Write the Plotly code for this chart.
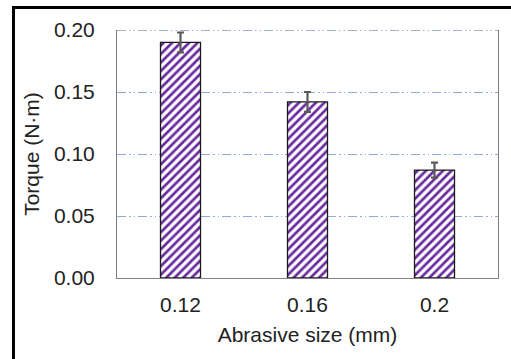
import plotly.graph_objects as go

categories = ["0.12", "0.16", "0.2"]
torque = [0.190, 0.142, 0.087]
errors = [0.008, 0.008, 0.006]
y_ticks = [0.0, 0.05, 0.10, 0.15, 0.20]
y_tick_labels = ["0.00", "0.05", "0.10", "0.15", "0.20"]

font_family = "Liberation Sans, Arial, sans-serif"

fig = go.Figure()
fig.add_trace(go.Bar(
    x=categories,
    y=torque,
    error_y=dict(type="data", array=errors, visible=True, color="#5a5a5a",
                 thickness=2.2, width=3.5),
    marker=dict(
        color="white",
        line=dict(color="#1a1a1a", width=1.3),
        pattern=dict(shape="/", fgcolor="#6a2a9e", bgcolor="white",
                     size=6, solidity=0.45, fillmode="overlay", fgopacity=1),
    ),
    width=0.315,
))

fig.update_layout(
    width=511, height=359,
    margin=dict(l=117, r=13, t=30, b=81),
    paper_bgcolor="white", plot_bgcolor="white",
    font=dict(family=font_family, size=21, color="#222222"),
    showlegend=False,
    xaxis=dict(
        title=dict(text="Abrasive size (mm)", font=dict(size=21), standoff=12),
        showline=True, linecolor="#808080", linewidth=1,
        ticks="", showgrid=False,
        tickfont=dict(size=21),
        ticklabelstandoff=8,
    ),
    yaxis=dict(
        title=dict(text="Torque (N·m)", font=dict(size=21), standoff=8),
        range=[0, 0.2],
        tickvals=y_ticks, ticktext=y_tick_labels,
        showline=True, mirror=True, linecolor="#808080", linewidth=1,
        showgrid=True, gridcolor="#8FAADC", gridwidth=1,
        griddash="9px,3px,1.5px,3px,1.5px,3px",
        zeroline=False, ticks="",
        tickfont=dict(size=21),
        ticklabelstandoff=17,
    ),
    shapes=[
        dict(type="line", xref="paper", yref="y", x0=0, x1=1, y0=0.2, y1=0.2,
             line=dict(color="#50648c", width=1.2, dash="9px,3px,1.5px,3px,1.5px,3px")),
        dict(type="rect", xref="paper", yref="paper",
             x0=(13.5 - 117) / 381, x1=(520 - 117) / 381,
             y0=(278 - 370) / 248, y1=(278 - 7.5) / 248,
             line=dict(color="black", width=3), fillcolor="rgba(0,0,0,0)"),
    ],
)

fig.write_html("out.html")
